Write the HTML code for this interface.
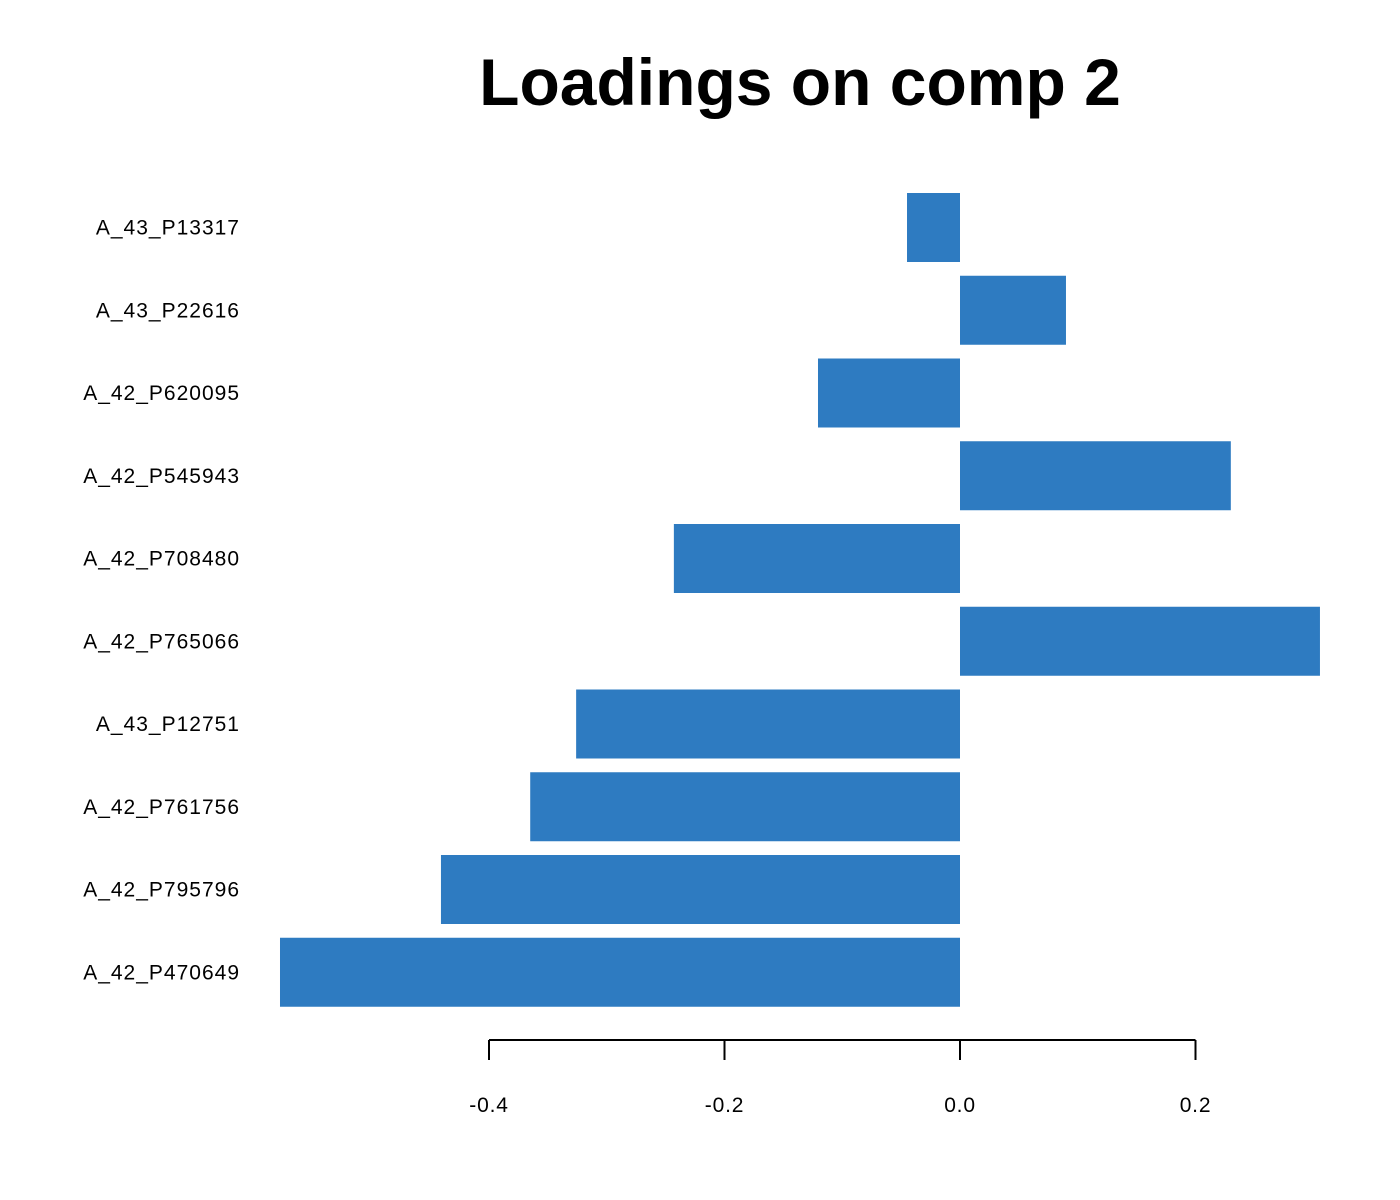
<!DOCTYPE html>
<html><head><meta charset="utf-8"><style>
html,body{margin:0;padding:0;background:#fff;}
svg{display:block;font-family:"Liberation Sans",Arial,sans-serif;}
</style></head><body>
<svg id="chart" width="1400" height="1200">
<text x="800" y="105" text-anchor="middle" font-size="66" font-weight="bold">Loadings on comp 2</text>
<g id="bars"></g>
<g id="labels"></g>
<g id="axis"></g>
</svg>
<script>
const categories = ["A_43_P13317","A_43_P22616","A_42_P620095","A_42_P545943","A_42_P708480","A_42_P765066","A_43_P12751","A_42_P761756","A_42_P795796","A_42_P470649"];
const values = [-0.045,0.09,-0.1206,0.230,-0.243,0.3057,-0.326,-0.365,-0.4408,-0.5775];
const ticks = [-0.4,-0.2,0.0,0.2];
const tickLabels = ["-0.4","-0.2","0.0","0.2"];
const NS = "http://www.w3.org/2000/svg";
const x = v => 960 + v * 1177.5;
const yC = i => 227.5 + i * 82.75;
const bh = 69;
const bars = document.getElementById('bars');
const labels = document.getElementById('labels');
const axis = document.getElementById('axis');
categories.forEach((c, i) => {
  const v = values[i];
  const r = document.createElementNS(NS, 'rect');
  r.setAttribute('x', Math.min(x(0), x(v)));
  r.setAttribute('width', Math.abs(x(v) - x(0)));
  r.setAttribute('y', yC(i) - bh / 2);
  r.setAttribute('height', bh);
  r.setAttribute('fill', '#2e7bc1');
  
  
  bars.appendChild(r);
  const t = document.createElementNS(NS, 'text');
  t.setAttribute('x', 240);
  t.setAttribute('y', yC(i) + 7);
  t.setAttribute('text-anchor', 'end');
  t.setAttribute('font-size', '21');
  t.setAttribute('letter-spacing', '1');
  t.textContent = c;
  
  
  labels.appendChild(t);
});
const line = document.createElementNS(NS, 'line');
line.setAttribute('x1', x(ticks[0])); line.setAttribute('x2', x(ticks[ticks.length - 1]));
line.setAttribute('y1', 1040); line.setAttribute('y2', 1040);
line.setAttribute('stroke', '#000'); line.setAttribute('stroke-width', '2');


axis.appendChild(line);
ticks.forEach((v, i) => {
  const l = document.createElementNS(NS, 'line');
  l.setAttribute('x1', x(v)); l.setAttribute('x2', x(v));
  l.setAttribute('y1', 1040); l.setAttribute('y2', 1060);
  l.setAttribute('stroke', '#000'); l.setAttribute('stroke-width', '2');
  
  
  axis.appendChild(l);
  const t = document.createElementNS(NS, 'text');
  t.setAttribute('x', x(v)); t.setAttribute('y', 1112);
  t.setAttribute('text-anchor', 'middle'); t.setAttribute('font-size', '21');
  t.setAttribute('letter-spacing', '0.8');
  t.textContent = tickLabels[i];
  
  
  axis.appendChild(t);
});
</script>
</body></html>
